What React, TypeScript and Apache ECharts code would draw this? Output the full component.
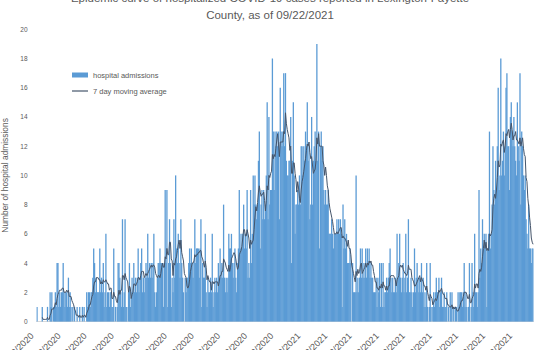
import React, { useEffect, useRef } from "react";
import * as echarts from "echarts";

// Daily hospital admissions (one array per month)
const START_DATE = "2020-03-02"; // first day on the axis (30 days in Mar)
const adm2020Mar = [1,0,0,0,0,0,1,0,0,0,0,0,1,0,0,2,1,2,0,1,1,2,1,4,4,1,2,1,2,2];
const adm2020Apr = [4,2,1,2,2,1,3,1,2,1,0,1,0,1,0,0,1,0,0,1,0,0,1,0,1,0,0,2,1,2];
const adm2020May = [2,1,2,2,3,5,4,2,3,2,2,2,5,2,3,2,4,1,2,6,1,2,2,1,2,2,1,1,5,0,1];
const adm2020Jun = [0,1,4,4,3,2,1,7,1,2,7,1,1,0,2,4,1,2,3,2,4,2,3,2,3,5,2,3,4,5];
const adm2020Jul = [2,3,2,3,4,3,6,3,4,3,4,3,4,6,2,1,2,3,4,4,5,4,4,4,1,4,9,4,9,1,4];
const adm2020Aug = [7,4,1,3,2,7,3,10,5,4,6,4,3,7,4,3,2,0,3,2,3,3,4,5,4,5,4,3,4,7,4];
const adm2020Sep = [5,5,5,3,5,7,1,4,3,3,6,2,1,3,2,2,3,2,6,1,2,3,2,3,2,4,3,5,3,4];
const adm2020Oct = [3,8,3,2,3,2,3,6,5,5,6,4,3,4,5,3,2,4,5,9,5,6,5,6,8,5,6,5,9,3,4];
const adm2020Nov = [3,9,4,6,10,8,10,8,7,8,11,13,5,8,9,7,9,7,8,10,15,7,14,8,9,9,18,13,9,13];
const adm2020Dec = [12,13,12,13,7,16,13,12,13,17,12,17,11,10,10,11,11,14,4,11,15,10,6,8,8,9,8,10,8,12,12];
const adm2021Jan = [10,12,11,13,12,15,11,12,7,8,14,8,11,12,13,11,19,11,13,5,12,13,11,12,9,8,9,8,8,9,6];
const adm2021Feb = [6,6,7,6,5,6,6,6,7,6,7,6,7,6,1,8,5,7,5,6,4,4,4,5,4,0,4,2];
const adm2021Mar = [2,2,10,2,3,2,3,5,3,5,3,4,3,5,3,5,4,5,3,4,3,3,2,2,2,3,1,3,2,4,1];
const adm2021Apr = [4,1,4,1,2,2,3,2,3,4,5,3,2,3,2,2,3,2,6,3,4,6,3,2,3,4,2,3,6,2];
const adm2021May = [3,7,2,2,3,2,1,2,5,2,3,4,3,2,3,2,4,2,3,1,2,1,4,1,0,1,4,1,0,1,2];
const adm2021Jun = [1,2,3,2,2,3,1,2,3,1,1,2,1,1,2,0,1,0,2,1,2,0,1,0,1,1,0,2,1,2];
const adm2021Jul = [2,2,1,2,4,1,2,1,0,1,4,0,1,4,2,1,6,2,2,1,2,9,3,5,4,7,5,6,5,6,1];
const adm2021Aug = [5,6,13,5,6,8,12,9,8,11,9,12,16,9,10,18,10,11,13,10,12,16,17,12,12,9,14,15,13,12,14];
const adm2021Sep = [12,11,10,15,12,11,17,8,13,12,10,9,10,7,6,5,8,5,5,4,5,5];

const admissions: number[] = [
  ...adm2020Mar, ...adm2020Apr, ...adm2020May, ...adm2020Jun, ...adm2020Jul,
  ...adm2020Aug, ...adm2020Sep, ...adm2020Oct, ...adm2020Nov, ...adm2020Dec,
  ...adm2021Jan, ...adm2021Feb, ...adm2021Mar, ...adm2021Apr, ...adm2021May,
  ...adm2021Jun, ...adm2021Jul, ...adm2021Aug, ...adm2021Sep,
];

const TITLE_LINES = [
  "Epidemic curve of hospitalized COVID-19 cases reported in Lexington-Fayette",
  "County, as of 09/22/2021",
];
const BAR_NAME = "hospital admissions";
const LINE_NAME = "7 day moving average";
const Y_AXIS_NAME = "Number of hospital admissions";
const Y_MIN = 0;
const Y_MAX = 20;
const Y_STEP = 2;
const LABEL_DAY = "2"; // x labels shown on the 2nd of each month
const MA_WINDOW = 7;

function buildDates(start: string, n: number): string[] {
  const [y, m, d] = start.split("-").map(Number);
  const base = Date.UTC(y, m - 1, d);
  const out: string[] = [];
  for (let i = 0; i < n; i++) {
    const dt = new Date(base + i * 86400000);
    out.push(`${dt.getUTCMonth() + 1}/${dt.getUTCDate()}/${dt.getUTCFullYear()}`);
  }
  return out;
}

function movingAverage(v: number[], w: number): (number | string)[] {
  return v.map((_, i) => {
    if (i < w - 1) return "-";
    let s = 0;
    for (let k = i - w + 1; k <= i; k++) s += v[k];
    return s / w;
  });
}

const FONT = "'Liberation Sans', Arial, sans-serif";
const TEXT = "#595959";

export default function App() {
  const ref = useRef<HTMLDivElement>(null);
  useEffect(() => {
    if (!ref.current) return;
    const chart = echarts.init(ref.current, null, { renderer: "svg" });
    const dates = buildDates(START_DATE, admissions.length);
    const ma = movingAverage(admissions, MA_WINDOW);
    chart.setOption({
      animation: false,
      backgroundColor: "#ffffff",
      textStyle: { fontFamily: FONT },
      graphic: TITLE_LINES.map((t, i) => ({
        type: "text",
        x: 270,
        y: 4 + i * 17,
        style: {
          text: t,
          textAlign: "center",
          textVerticalAlign: "bottom",
          fontFamily: FONT,
          fontSize: 11.5,
          fill: TEXT,
        },
      })),
      legend: {
        orient: "vertical",
        left: 72,
        top: 71,
        padding: 0,
        itemWidth: 16,
        itemHeight: 5,
        itemGap: 8,
        textStyle: { fontFamily: FONT, fontSize: 7.5, color: TEXT },
        data: [
          { name: BAR_NAME, icon: "rect" },
          { name: LINE_NAME, icon: "path://M0,0H40V3H0Z" },
        ],
      },
      grid: {
        left: 36.6,
        right: 6.5,
        top: 29.3,
        bottom: 28.5,
        containLabel: false,
        outerBoundsMode: "none",
      },
      xAxis: {
        type: "category",
        data: dates,
        boundaryGap: true,
        axisLine: { show: true, lineStyle: { color: "#D9D9D9", width: 1 } },
        axisTick: { show: false },
        axisLabel: {
          interval: (_i: number, val: string) => val.split("/")[1] === LABEL_DAY,
          rotate: 45,
          fontSize: 9,
          color: TEXT,
          fontFamily: FONT,
          margin: 8,
          padding: [0, 7, 0, 0],
        },
        splitLine: { show: false },
      },
      yAxis: {
        type: "value",
        min: Y_MIN,
        max: Y_MAX,
        interval: Y_STEP,
        axisLine: { show: false },
        axisTick: { show: false },
        splitLine: { show: false },
        axisLabel: { fontSize: 6.5, color: TEXT, fontFamily: FONT, margin: 9 },
        name: Y_AXIS_NAME,
        nameLocation: "middle",
        nameGap: 21,
        nameTextStyle: { fontSize: 8.4, color: TEXT, fontFamily: FONT },
      },
      series: [
        {
          type: "bar",
          name: BAR_NAME,
          data: admissions,
          barWidth: 1.3,
          itemStyle: { color: "#5B9BD5" },
        },
        {
          type: "line",
          name: LINE_NAME,
          data: ma,
          symbol: "none",
          showSymbol: false,
          lineStyle: { color: "#44546A", width: 1 },
          itemStyle: { color: "#44546A" },
        },
      ],
    });
    return () => chart.dispose();
  }, []);
  return (
    <div
      ref={ref}
      style={{ position: "fixed", left: 0, top: 0, width: 540, height: 350 }}
    />
  );
}
